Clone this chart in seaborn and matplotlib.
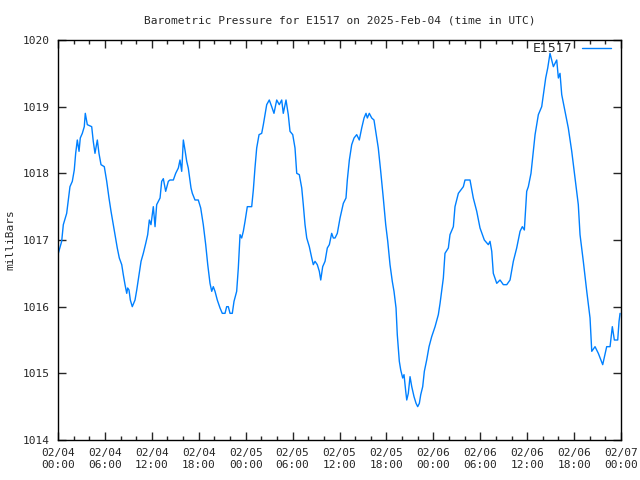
import numpy as np
import pandas as pd
import matplotlib
matplotlib.use("Agg")
import matplotlib.pyplot as plt
import matplotlib.dates as mdates
import seaborn as sns

# hours since 2025-02-04 00:00 UTC, pressure in mbar
hours = [0.04, 0.47, 0.68, 1.11, 1.32, 1.53, 1.83, 2.08, 2.26, 2.47, 2.69, 2.85, 3.11, 3.36, 3.49,
         3.75, 4.31, 4.51, 4.73, 5.03, 5.24, 5.50, 5.92, 6.23, 6.52, 6.78, 7.07, 7.29, 7.58, 7.84,
         8.15, 8.35, 8.57, 8.79, 8.91, 9.08, 9.25, 9.50, 9.85, 10.07, 10.36, 10.62, 10.91, 11.22,
         11.47, 11.68, 11.89, 12.19, 12.41, 12.62, 13.05, 13.26, 13.47, 13.77, 14.11, 14.32, 14.75,
         15.05, 15.39, 15.60, 15.82, 16.03, 16.24, 16.46, 16.66, 17.01, 17.18, 17.52, 17.94, 18.25,
         18.58, 18.89, 19.15, 19.44, 19.66, 19.86, 20.08, 20.37, 20.72, 21.01, 21.36, 21.57, 21.78,
         22.00, 22.29, 22.51, 22.85, 23.06, 23.28, 23.49, 23.70, 23.92, 24.21, 24.77, 24.98, 25.19,
         25.41, 25.71, 26.05, 26.26, 26.47, 26.69, 27.02, 27.33, 27.62, 27.97, 28.30, 28.61, 28.81,
         29.16, 29.45, 29.67, 30.02, 30.31, 30.53, 30.86, 31.17, 31.37, 31.59, 31.81, 32.14, 32.45,
         32.65, 32.87, 33.16, 33.42, 33.60, 33.85, 34.15, 34.44, 34.70, 35.00, 35.21, 35.43, 35.72,
         36.07, 36.49, 36.83, 37.00, 37.26, 37.56, 37.86, 38.20, 38.53, 38.84, 39.14, 39.39, 39.56,
         39.81, 40.12, 40.41, 40.67, 40.96, 41.27, 41.60, 41.91, 42.17, 42.46, 42.75, 42.97, 43.23,
         43.39, 43.65, 43.83, 44.08, 44.25, 44.47, 44.60, 44.80, 45.02, 45.24, 45.53, 45.79, 46.00,
         46.21, 46.39, 46.64, 46.85, 47.15, 47.45, 47.79, 48.22, 48.64, 48.86, 49.28, 49.49, 49.92,
         50.13, 50.56, 50.77, 51.20, 51.84, 52.05, 52.69, 53.11, 53.55, 53.97, 54.52, 55.03, 55.25,
         55.47, 55.67, 56.11, 56.53, 56.95, 57.39, 57.81, 58.23, 58.66, 59.09, 59.38, 59.64, 59.94,
         60.15, 60.49, 60.79, 61.01, 61.43, 61.86, 62.07, 62.37, 62.63, 62.92, 63.35, 63.78, 63.99,
         64.20, 64.42, 64.84, 65.26, 65.70, 66.12, 66.54, 66.76, 67.18, 67.62, 68.04, 68.26, 68.68,
         69.10, 69.66, 70.17, 70.60, 70.89, 71.15, 71.58, 71.75, 71.88]
pressure = [1016.80, 1016.98, 1017.23, 1017.40, 1017.60, 1017.80, 1017.88, 1018.05, 1018.30, 1018.50,
            1018.33, 1018.53, 1018.60, 1018.70, 1018.90, 1018.73, 1018.70, 1018.48, 1018.30, 1018.50,
            1018.30, 1018.13, 1018.10, 1017.88, 1017.63, 1017.43, 1017.23, 1017.08, 1016.88, 1016.73,
            1016.63, 1016.48, 1016.33, 1016.20, 1016.28, 1016.25, 1016.10, 1016.00, 1016.10, 1016.25,
            1016.48, 1016.68, 1016.80, 1016.95, 1017.08, 1017.30, 1017.23, 1017.50, 1017.20, 1017.53,
            1017.63, 1017.88, 1017.92, 1017.73, 1017.88, 1017.90, 1017.90, 1018.00, 1018.08, 1018.20,
            1018.03, 1018.50, 1018.35, 1018.18, 1018.08, 1017.78, 1017.70, 1017.60, 1017.60, 1017.48,
            1017.23, 1016.93, 1016.63, 1016.35, 1016.23, 1016.30, 1016.23, 1016.10, 1015.98, 1015.90,
            1015.90, 1016.00, 1016.00, 1015.90, 1015.90, 1016.08, 1016.23, 1016.58, 1017.08, 1017.03,
            1017.13, 1017.28, 1017.50, 1017.50, 1017.75, 1018.08, 1018.38, 1018.58, 1018.60, 1018.73,
            1018.88, 1019.03, 1019.10, 1019.00, 1018.90, 1019.10, 1019.03, 1019.10, 1018.90, 1019.10,
            1018.88, 1018.63, 1018.58, 1018.38, 1018.00, 1017.98, 1017.78, 1017.53, 1017.23, 1017.03,
            1016.90, 1016.73, 1016.63, 1016.68, 1016.63, 1016.53, 1016.40, 1016.60, 1016.68, 1016.88,
            1016.93, 1017.10, 1017.03, 1017.03, 1017.10, 1017.33, 1017.55, 1017.63, 1017.90, 1018.20,
            1018.43, 1018.53, 1018.58, 1018.50, 1018.68, 1018.83, 1018.90, 1018.83, 1018.90, 1018.83,
            1018.80, 1018.60, 1018.38, 1018.03, 1017.63, 1017.23, 1016.98, 1016.63, 1016.38, 1016.23,
            1015.98, 1015.58, 1015.18, 1015.05, 1014.93, 1014.98, 1014.73, 1014.60, 1014.70, 1014.95,
            1014.80, 1014.65, 1014.55, 1014.50, 1014.55, 1014.68, 1014.80, 1015.03, 1015.20, 1015.40,
            1015.55, 1015.70, 1015.88, 1016.05, 1016.43, 1016.80, 1016.88, 1017.08, 1017.20, 1017.50,
            1017.70, 1017.80, 1017.90, 1017.90, 1017.63, 1017.43, 1017.18, 1017.00, 1016.93, 1016.98,
            1016.83, 1016.50, 1016.35, 1016.40, 1016.33, 1016.33, 1016.40, 1016.68, 1016.88, 1017.13,
            1017.20, 1017.15, 1017.73, 1017.80, 1018.00, 1018.33, 1018.58, 1018.88, 1019.00, 1019.18,
            1019.43, 1019.58, 1019.80, 1019.60, 1019.70, 1019.43, 1019.50, 1019.18, 1018.93, 1018.68,
            1018.33, 1017.93, 1017.53, 1017.08, 1016.68, 1016.23, 1015.83, 1015.33, 1015.40, 1015.30,
            1015.13, 1015.40, 1015.40, 1015.70, 1015.50, 1015.50, 1015.78, 1015.90]

start = pd.Timestamp("2025-02-04 00:00")
df = pd.DataFrame({"time": start + pd.to_timedelta(hours, unit="h"), "mbar": pressure})

sns.set_style("ticks")
plt.rcParams["font.family"] = ["DejaVu Sans Mono"]

fig = plt.figure(figsize=(6.4, 4.8), dpi=100)
ax = fig.add_axes([58 / 640, 40 / 480, 563 / 640, 400 / 480])

sns.lineplot(data=df, x="time", y="mbar", color="#0080ff", linewidth=1.0, label="E1517", ax=ax)

ax.set_xlim(start, start + pd.Timedelta(hours=72))
ax.set_ylim(1014, 1020)
ax.set_yticks(range(1014, 1021))
ax.xaxis.set_major_locator(mdates.HourLocator(byhour=[0, 6, 12, 18]))
ax.xaxis.set_minor_locator(mdates.HourLocator(interval=2))
ax.xaxis.set_major_formatter(mdates.DateFormatter("%m/%d\n%H:%M"))

ax.tick_params(axis="both", which="major", direction="in", length=6, width=1,
               top=True, right=True, labelsize=8, pad=6)
ax.tick_params(axis="x", which="minor", direction="in", length=3, width=1, top=True)
for s in ax.spines.values():
    s.set_linewidth(1)
    s.set_color("black")

ax.set_xlabel("")
ax.set_ylabel("milliBars", fontsize=8, labelpad=5)
ax.set_title("Barometric Pressure for E1517 on 2025-Feb-04 (time in UTC)", fontsize=8, pad=12)

ax.legend(loc="upper right", bbox_to_anchor=(0.991, 1.0075), frameon=False, markerfirst=False,
          handlelength=2.3, borderaxespad=0, prop={"family": "DejaVu Sans", "size": 9})

fig.savefig("out.png", dpi=100)
